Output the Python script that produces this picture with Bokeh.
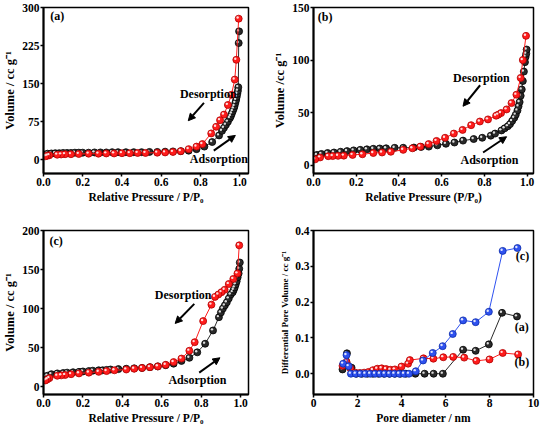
from bokeh.plotting import figure
from bokeh.layouts import gridplot
from bokeh.models import Range1d, Arrow, NormalHead, Label, FixedTicker, NumeralTickFormatter
from bokeh.embed import file_html
from bokeh.resources import INLINE

# ---------------- data ----------------
# Panel (a)
a_ads_x = [0.005, 0.02, 0.04, 0.06, 0.08, 0.10, 0.12, 0.14, 0.16, 0.18,
           0.20, 0.23, 0.26, 0.29, 0.32, 0.35, 0.38, 0.42, 0.46, 0.50,
           0.54, 0.58, 0.62, 0.66, 0.70, 0.74, 0.78, 0.82, 0.86, 0.895,
           0.91, 0.92, 0.93, 0.94, 0.95, 0.955, 0.96, 0.965, 0.97, 0.974,
           0.978, 0.982, 0.985, 0.988, 0.991, 0.993, 0.995, 0.997]
a_ads_y = [10, 12, 12.5, 13, 13, 13.5, 13.5, 13.5, 14, 14,
           14, 14, 14.5, 14.5, 14.5, 15, 15, 15, 15, 15,
           15.5, 15.5, 16, 16.5, 17, 18, 21, 26, 35, 48,
           57, 63, 69, 75, 82, 86, 91, 96, 101, 106,
           112, 118, 124, 130, 136, 143, 230, 253]
a_des_x = [0.995, 0.983, 0.975, 0.958, 0.94, 0.92, 0.90, 0.88, 0.855, 0.81,
           0.78, 0.74, 0.70, 0.66, 0.62, 0.58, 0.52, 0.48, 0.44, 0.40,
           0.36, 0.32, 0.28, 0.23, 0.18, 0.14, 0.11, 0.09, 0.07, 0.03,
           0.02, 0.01]
a_des_y = [278, 197, 158, 128, 108, 89, 78, 65, 52, 31,
           26, 21, 17, 15.5, 14.5, 14, 13.5, 13.5, 13, 13,
           12.5, 12.5, 12, 12, 11.5, 11, 11, 10.5, 10, 9,
           8, 7]

# Panel (b)
b_ads_x = [0.005, 0.016, 0.037, 0.066, 0.096, 0.127, 0.157, 0.188, 0.219, 0.25,
           0.28, 0.31, 0.34, 0.38, 0.42, 0.47, 0.504, 0.54, 0.58, 0.62,
           0.66, 0.70, 0.75, 0.79, 0.83, 0.85, 0.88, 0.895, 0.91, 0.92,
           0.93, 0.94, 0.947, 0.955, 0.96, 0.965, 0.97, 0.975, 0.98, 0.985,
           0.99, 0.993, 0.996, 0.998]
b_ads_y = [8.5, 9.7, 10.6, 11.5, 12, 12.7, 13.3, 14, 14.5, 15,
           15.5, 15.8, 16, 16.4, 16.5, 16.7, 17.3, 17.6, 18.8, 20.3,
           21.5, 23.3, 24.8, 26, 28, 30, 33, 35, 37, 39,
           42, 45, 48, 52, 56, 60, 66, 72, 80, 89,
           98, 103, 106, 110]
b_des_x = [0.995, 0.98, 0.97, 0.95, 0.927, 0.904, 0.878, 0.865, 0.855, 0.817,
           0.779, 0.738, 0.698, 0.657, 0.616, 0.576, 0.539, 0.50, 0.463, 0.42,
           0.362, 0.321, 0.28, 0.229, 0.183, 0.142, 0.115, 0.09, 0.069, 0.031,
           0.008]
b_des_y = [123, 100, 83, 67, 59, 53, 49.5, 48, 47, 43.5,
           41.5, 38, 33.5, 30, 26, 23, 20, 17.6, 16, 14.5,
           12.7, 12, 11.5, 10.3, 9.7, 9, 8.8, 8.6, 8.5, 7.3,
           5.5]

# Panel (c)
c_ads_x = [0.005, 0.02, 0.04, 0.07, 0.10, 0.12, 0.15, 0.18, 0.20, 0.23,
           0.25, 0.28, 0.30, 0.32, 0.34, 0.38, 0.42, 0.46, 0.50, 0.54,
           0.58, 0.62, 0.66, 0.70, 0.74, 0.78, 0.82, 0.86, 0.89, 0.90,
           0.91, 0.92, 0.93, 0.94, 0.95, 0.96, 0.965, 0.97, 0.975, 0.98,
           0.985, 0.99, 0.993, 0.996]
c_ads_y = [13, 14, 16, 17, 17.5, 18, 18.5, 19, 19.5, 20,
           20.5, 21, 21, 21.5, 22, 22.5, 23, 23.5, 24, 25,
           26, 27.5, 29.5, 33, 37, 44, 55, 72, 89, 95,
           100, 104, 108, 113, 118, 121, 124, 127, 131, 135,
           140, 145, 151, 159]
c_des_x = [0.993, 0.984, 0.963, 0.94, 0.919, 0.903, 0.887, 0.87, 0.852, 0.81,
           0.767, 0.74, 0.70, 0.66, 0.62, 0.58, 0.54, 0.50, 0.46, 0.42,
           0.36, 0.32, 0.28, 0.23, 0.18, 0.14, 0.11, 0.09, 0.07, 0.03,
           0.02, 0.01]
c_des_y = [181, 145, 138, 131.5, 124, 121, 118, 115, 105, 84,
           57, 46, 36, 31.5, 28, 26, 25, 24, 23, 22,
           21, 20, 19, 18, 17, 16, 15, 14.5, 14, 11,
           9.5, 8]

# Panel (d) pore size distributions
d_a_x = [1.32, 1.52, 1.73, 1.95, 2.2, 2.45, 2.7, 2.95, 3.2, 3.45,
         3.7, 3.95, 4.2, 4.63, 5.05, 5.46, 5.88, 6.8, 7.37, 7.97,
         8.57, 9.25]
d_a_y = [0.012, 0.057, 0.017, 0, 0, 0, 0, 0, 0, 0,
         0, 0, 0, 0, 0, 0, 0, 0.067, 0.064, 0.082,
         0.170, 0.160]
d_b_x = [1.32, 1.50, 1.68, 1.9, 2.1, 2.3, 2.5, 2.7, 2.9, 3.1,
         3.3, 3.5, 3.7, 4.0, 4.3, 4.38, 5.0, 5.45, 5.9, 6.35,
         6.85, 7.4, 8.0, 8.6, 9.3]
d_b_y = [0.022, 0.033, 0.015, 0.003, 0.002, 0.003, 0.005, 0.010, 0.014, 0.015,
         0.013, 0.011, 0.012, 0.020, 0.028, 0.038, 0.043, 0.042, 0.046, 0.047,
         0.045, 0.036, 0.040, 0.058, 0.054]
d_c_x = [1.35, 1.50, 1.60, 1.70, 1.92, 2.14, 2.36, 2.58, 2.80, 3.02,
         3.24, 3.46, 3.68, 3.90, 4.12, 4.34, 4.65, 4.98, 5.42, 5.87,
         6.33, 6.80, 7.37, 7.97, 8.60, 9.27]
d_c_y = [0.028, 0.052, 0.021, 0, 0, 0, 0, 0, 0, 0,
         0, 0, 0, 0, 0, 0, 0.007, 0.037, 0.058, 0.077,
         0.111, 0.149, 0.144, 0.173, 0.343, 0.351]

# tick values
a_xticks = [0, 0.2, 0.4, 0.6, 0.8, 1.0]
a_yticks = [0, 75, 150, 225, 300]
b_yticks = [0, 50, 100, 150]
c_yticks = [0, 50, 100, 150, 200]
d_xticks = [0, 2, 4, 6, 8, 10]
d_yticks = [0.0, 0.1, 0.2, 0.3, 0.4]

FONT = "Liberation Serif"
RED, RED_EDGE = "#ff1c1c", "#b00000"
BLK, BLK_EDGE = "#2a2a2a", "#000000"
BLU, BLU_EDGE = "#2f52f0", "#0a2aa8"


def make_fig(w, h, xr, yr, xticks, yticks, xlabel, ylabel, borders,
             xfmt=None, yfmt=None, ylabel_size="12.5px"):
    p = figure(width=w, height=h, x_range=Range1d(*xr), y_range=Range1d(*yr),
               output_backend="svg", toolbar_location=None,
               min_border_left=borders[0], min_border_right=borders[1],
               min_border_top=borders[2], min_border_bottom=borders[3])
    p.grid.visible = False
    p.outline_line_color = "black"
    p.outline_line_width = 1.5
    p.background_fill_color = "white"
    p.border_fill_color = "white"
    for ax, ticks, lab, fmt in ((p.xaxis[0], xticks, xlabel, xfmt),
                                (p.yaxis[0], yticks, ylabel, yfmt)):
        ax.ticker = FixedTicker(ticks=ticks)
        if fmt:
            ax.formatter = NumeralTickFormatter(format=fmt)
        ax.axis_label = lab
        ax.axis_line_width = 2
        ax.major_tick_line_width = 1.5
        ax.major_tick_out = 3
        ax.major_tick_in = 0
        ax.minor_tick_line_color = None
        ax.major_label_text_font = FONT
        ax.major_label_text_font_style = "bold"
        ax.major_label_text_font_size = "11.5px"
        ax.major_label_text_color = "black"
        ax.axis_label_text_font = FONT
        ax.axis_label_text_font_style = "bold"
        ax.axis_label_text_color = "black"
        ax.major_label_standoff = 1
        ax.axis_label_standoff = 2
    p.xaxis.axis_label_text_font_size = "11.5px"
    p.yaxis.axis_label_text_font_size = ylabel_size
    return p


def series(p, xs, ys, fill, edge, fw, fh, size=7):
    xr, yr = p.x_range, p.y_range
    dx = -1.1 * (xr.end - xr.start) / fw
    dy = 1.1 * (yr.end - yr.start) / fh
    p.line(xs, ys, line_color=fill, line_width=1)
    p.scatter(xs, ys, size=size, fill_color=fill, line_color=edge, line_width=0.8)
    p.scatter([x + dx for x in xs], [y + dy for y in ys], size=2.4,
              fill_color="white", line_color=None, fill_alpha=0.85)


def note(p, x, y, text, size="12px", align="center"):
    p.add_layout(Label(x=x, y=y, text=text, text_font=FONT, text_font_style="bold",
                       text_font_size=size, text_align=align, text_baseline="middle",
                       text_color="black"))


def arrow(p, x0, y0, x1, y1):
    p.add_layout(Arrow(end=NormalHead(size=7, fill_color="black", line_color="black", line_width=1),
                       x_start=x0, y_start=y0, x_end=x1, y_end=y1,
                       line_width=2, line_color="black"))


# ---------------- panel (a) ----------------
pa = make_fig(270, 214, (0, 1.045), (-27, 300), a_xticks, a_yticks,
              "Relative Pressure / P/P\u2080", "Volume / cc g\u207b\u00b9",
              (39, 22, 7, 41), xfmt="0.0")
series(pa, a_ads_x, a_ads_y, BLK, BLK_EDGE, 209, 166)
series(pa, a_des_x, a_des_y, RED, RED_EDGE, 209, 166)
note(pa, 0.84, 130, "Desorption")
arrow(pa, 0.818, 112, 0.738, 77)
note(pa, 0.894, 1, "Adsorption")
arrow(pa, 0.868, 18, 0.978, 48)
note(pa, 0.035, 284, "(a)", align="left")

# ---------------- panel (b) ----------------
pb = make_fig(271, 214, (0, 1.03), (-8, 150), a_xticks, b_yticks,
              "Relative Pressure (P/P\u2080)", "Volume /cc g\u207b\u00b9",
              (43, 3, 6, 35), xfmt="0.0")
series(pb, b_ads_x, b_ads_y, BLK, BLK_EDGE, 225, 173)
series(pb, b_des_x, b_des_y, RED, RED_EDGE, 225, 173)
note(pb, 0.786, 83, "Desorption")
arrow(pb, 0.78, 76, 0.70, 56)
note(pb, 0.824, 5, "Adsorption")
arrow(pb, 0.794, 12, 0.904, 27)
note(pb, 0.02, 141, "(b)", align="left")

# ---------------- panel (c) ----------------
pc = make_fig(270, 213, (0, 1.04), (-10, 200), a_xticks, c_yticks,
              "Relative Pressure / P/P\u2080", "Volume / cc g\u207b\u00b9",
              (34, 22, 15, 33), xfmt="0.0")
series(pc, c_ads_x, c_ads_y, BLK, BLK_EDGE, 214, 165)
series(pc, c_des_x, c_des_y, RED, RED_EDGE, 214, 165)
note(pc, 0.708, 117, "Desorption")
arrow(pc, 0.765, 106, 0.668, 81)
note(pc, 0.781, 8, "Adsorption")
arrow(pc, 0.79, 18, 0.895, 37)
note(pc, 0.03, 187, "(c)", align="left")

# ---------------- panel (d) ----------------
pd_ = make_fig(271, 213, (0, 10), (-0.058, 0.4), d_xticks, d_yticks,
               "Pore diameter / nm", "Differential Pore Volume / cc g\u207b\u00b9",
               (42, 8, 16, 32), yfmt="0.0", ylabel_size="9px")
series(pd_, d_a_x, d_a_y, BLK, BLK_EDGE, 221, 165)
series(pd_, d_b_x, d_b_y, RED, RED_EDGE, 221, 165)
series(pd_, d_c_x, d_c_y, BLU, BLU_EDGE, 221, 165)
note(pd_, 9.5, 0.328, "(c)")
note(pd_, 9.47, 0.131, "(a)")
note(pd_, 9.47, 0.033, "(b)")

grid = gridplot([[pa, pb], [pc, pd_]], toolbar_location=None)

open("out.html", "w").write(file_html(grid, INLINE))
